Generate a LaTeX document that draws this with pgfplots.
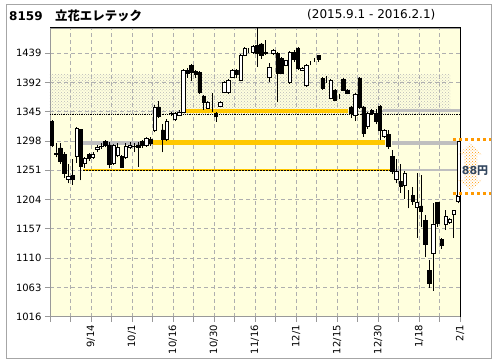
\documentclass[border=0pt]{standalone}
\usepackage{fontspec}
\setmainfont{DejaVu Sans}
\newfontfamily\cjk{Noto Sans CJK JP}
\usepackage{pgfplots}
\pgfplotsset{compat=1.18}
\usepackage{pgfplotstable}
\usetikzlibrary{patterns}
\definecolor{bgy}{RGB}{255,255,222}
\definecolor{gridc}{RGB}{175,175,175}
\definecolor{goldl}{RGB}{255,200,0}
\definecolor{orng}{RGB}{255,153,0}
\definecolor{txtb}{RGB}{50,70,95}

\pgfplotstableread{
i o h l c
0 1329 1332 1288 1292
1 1276 1295 1272 1279
2 1287 1295 1262 1265
3 1276 1280 1239 1247
4 1237 1262 1230 1241
5 1243 1270 1228 1237
6 1273 1321 1263 1319
7 1317 1318 1235 1258
8 1262 1272 1255 1270
9 1276 1279 1266 1270
10 1272 1280 1270 1276
11 1285 1292 1280 1288
12 1290 1295 1285 1289
13 1297 1299 1288 1292
14 1292 1296 1254 1260
15 1262 1294 1260 1292
16 1275 1295 1272 1288
17 1273 1276 1254 1256
18 1272 1295 1270 1289
19 1288 1296 1285 1292
20 1289 1295 1280 1290
21 1292 1296 1257 1288
22 1297 1300 1287 1292
23 1292 1305 1289 1303
24 1301 1305 1290 1295
25 1316 1356 1312 1353
26 1353 1363 1335 1338
27 1316 1326 1280 1301
28 1301 1334 1298 1329
29 1342 1345 1338 1343
30 1333 1345 1330 1343
31 1340 1348 1338 1345
32 1345 1414 1343 1412
33 1412 1416 1400 1407
34 1420 1422 1395 1409
35 1410 1412 1400 1405
36 1408 1410 1374 1376
37 1370 1372 1348 1360
38 1351 1363 1349 1361
39 1365 1375 1345 1365
40 1342 1345 1329 1337
41 1354 1363 1352 1361
42 1377 1395 1375 1393
43 1376 1397 1374 1395
44 1401 1413 1399 1411
45 1411 1414 1400 1406
46 1396 1438 1394 1436
47 1436 1449 1434 1447
48 1444 1447 1440 1444
49 1441 1452 1438 1450
50 1452 1485 1417 1439
51 1454 1456 1430 1436
52 1439 1460 1436 1441
53 1400 1424 1393 1417
54 1439 1446 1436 1444
55 1439 1441 1360 1407
56 1431 1433 1405 1407
57 1420 1429 1418 1427
58 1392 1442 1390 1440
59 1440 1445 1425 1430
60 1447 1449 1412 1415
61 1412 1417 1410 1415
62 1388 1422 1385 1420
63 1423 1426 1420 1423
64 1428 1432 1425 1428
65 1435 1437 1425 1429
66 1399 1401 1380 1383
67 1399 1403 1392 1399
68 1367 1398 1365 1396
69 1380 1382 1362 1364
70 1370 1374 1366 1370
71 1397 1400 1378 1379
72 1379 1381 1373 1375
73 1353 1355 1335 1343
74 1340 1375 1330 1373
75 1399 1401 1350 1353
76 1353 1355 1305 1310
77 1321 1345 1318 1343
78 1347 1350 1340 1343
79 1343 1350 1325 1330
80 1354 1356 1300 1316
81 1305 1318 1303 1316
82 1309 1315 1285 1289
83 1273 1284 1245 1249
84 1237 1270 1230 1249
85 1233 1262 1215 1226
86 1227 1250 1205 1247
87 1209 1219 1190 1209
88 1211 1225 1195 1202
89 1192 1246 1143 1200
90 1194 1243 1160 1185
91 1171 1180 1112 1132
92 1090 1107 1062 1070
93 1118 1198 1058 1165
94 1199 1200 1160 1166
95 1140 1143 1125 1131
96 1165 1187 1155 1177
97 1167 1175 1165 1173
98 1181 1188 1142 1187
99 1201 1213 1198 1211
}\candles

\pgfplotsset{
  base/.style={at={(50pt,47.3pt)}, anchor=south west, scale only axis,
    width=410pt, height=288.7pt, xmin=-0.5, xmax=99.5, ymin=1016, ymax=1479.6}
}

\begin{document}
\begin{tikzpicture}[x=1pt,y=1pt]
\useasboundingbox (0,0) rectangle (496,364);
\fill[white] (0,0) rectangle (496,364);
\draw[gray!70, line width=1pt] (6,5) rectangle (491,359);
\node[anchor=base west, inner sep=0] at (9,343.3) {\fontsize{12}{14}\selectfont\bfseries 8159};
\node[anchor=base west, inner sep=0] at (55,343.3) {\cjk\fontsize{12.4}{14}\selectfont\bfseries 立花エレテック};
\node[anchor=base west, inner sep=0] at (307,345) {\fontsize{12}{14}\selectfont (2015.9.1 - 2016.2.1)};

\begin{axis}[base,
  axis background/.style={fill=bgy},
  axis line style={gray!80, line width=0.8pt},
  tick pos=left, tick align=outside, major tick length=5pt,
  tick style={gray!80, line width=0.8pt},
  grid=major, major grid style={gridc, dash pattern=on 4pt off 3pt, line width=0.8pt},
  xtick={-0.5,4.5,...,99.5},
  xticklabels={,,9/14,,10/1,,10/16,,10/30,,11/16,,12/1,,12/15,,12/30,,1/18,,2/1},
  ytick={1016,1063,1110,1157,1204,1251,1298,1345,1392,1439},
  yticklabels={1016,1063,1110,1157,1204,1251,1298,1345,1392,1439},
  ticklabel style={font=\fontsize{10}{12}\selectfont, text=black},
  xticklabel style={rotate=90, anchor=east},
]
% gap band
\addplot[draw=none, pattern=crosshatch dots, pattern color=gray!55, forget plot]
  coordinates {(-0.5,1341) (97.1,1341) (97.1,1405) (-0.5,1405)} -- cycle;
\addplot[black, densely dotted, line width=0.8pt, forget plot] coordinates {(-0.5,1341) (97.1,1341)};
% level B
\addplot[goldl, line width=3.6pt, forget plot] coordinates {(31.9,1346.5) (72.2,1346.5)};
\addplot[gray!50, line width=3.4pt, forget plot] coordinates {(80.7,1347) (99.5,1347)};
\addplot[black, densely dotted, line width=0.8pt, forget plot] coordinates {(97.1,1341) (99.5,1341)};
% level C
\addplot[gray!50, line width=4pt, forget plot] coordinates {(6.8,1295.5) (24.6,1295.5)};
\addplot[goldl, line width=4.4pt, forget plot] coordinates {(24.6,1295.5) (81.2,1295.5)};
\addplot[gray!50, line width=4pt, forget plot] coordinates {(82.8,1295.5) (99.5,1295.5)};
% level D
\addplot[goldl, line width=1.3pt, forget plot] coordinates {(7.5,1251.5) (82.4,1251.5)};
\addplot[black, densely dotted, line width=0.5pt, forget plot] coordinates {(7.5,1251.5) (82.4,1251.5)};
\addplot[gray!50, line width=2pt, forget plot] coordinates {(82.4,1251) (99.0,1251)};
% wicks
\addplot[draw=none, mark=none, forget plot,
  error bars/.cd, y dir=plus, y explicit, error mark=none,
  error bar style={draw=black, line width=0.8pt}]
  table[x=i, y=l, y error expr=\thisrow{h}-\thisrow{l}] \candles;
\end{axis}

\begin{axis}[base, hide axis, ybar stacked, bar width=3.4pt]
\addplot[draw=none, fill=none] table[x=i, y expr={min(\thisrow{o},\thisrow{c})}] \candles;
\addplot[draw=black, fill=white, line width=0.6pt] table[x=i, y expr={max(\thisrow{c}-\thisrow{o},0)}] \candles;
\addplot[draw=black, fill=black, line width=0.6pt] table[x=i, y expr={max(\thisrow{o}-\thisrow{c},0)}] \candles;
\end{axis}

\draw[black, line width=1pt] (50,336) -- (460,336) -- (460,47.3);
\draw[black, fill=white, line width=0.6pt] (457.3,167.3) rectangle (460.7,222.3);
\fill[pattern=crosshatch dots, pattern color=orng] (470.5,221) -- (483,209) -- (477,209) -- (477,184) -- (483,184) -- (470.5,174) -- (458,184) -- (464,184) -- (464,209) -- (458,209) -- cycle;
\draw[orng, line width=3.3pt, dash pattern=on 3.3pt off 2.7pt] (453,224.5) -- (491,224.5);
\draw[orng, line width=3.3pt, dash pattern=on 3.3pt off 2.7pt] (453,170.7) -- (491,170.7);
\node[anchor=center, inner sep=0, text=txtb] at (475,193) {\fontsize{11}{12}\selectfont\bfseries 88\cjk 円};
\end{tikzpicture}
\end{document}
